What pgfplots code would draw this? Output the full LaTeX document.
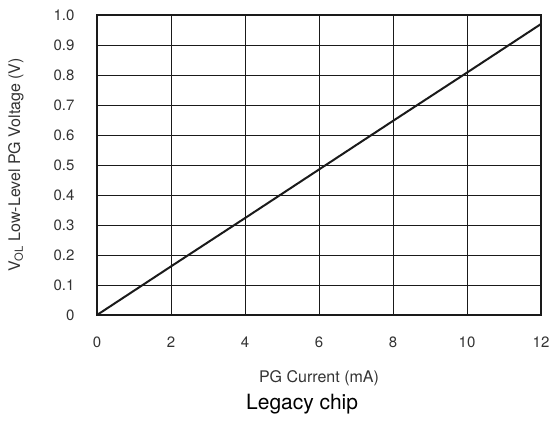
\documentclass[border=0pt]{standalone}
\usepackage{fontspec}
\setmainfont{TeX Gyre Heros}
\usepackage{pgfplots}
\pgfplotsset{compat=1.18}
\definecolor{ink}{HTML}{1A1A1A}
\definecolor{txt}{HTML}{333333}
\begin{document}
\begin{tikzpicture}
\useasboundingbox (-97bp,-109bp) rectangle (454bp,315bp);
\begin{axis}[
  scale only axis,
  width=444bp, height=300bp,
  xmin=0, xmax=12, ymin=0, ymax=1,
  xtick={0,2,...,12},
  ytick={0,0.1,...,1.0},
  yticklabels={0,0.1,0.2,0.3,0.4,0.5,0.6,0.7,0.8,0.9,1.0},
  /pgf/number format/assume math mode=true,
  tick style={draw=none},
  grid=major,
  major grid style={ink, line width=0.8bp},
  axis line style={ink, line width=2bp},
  ticklabel style={font=\fontsize{15bp}{18bp}\selectfont, text=txt},
  yticklabel style={xshift=-19bp},
  xticklabel style={yshift=-18bp},
  xlabel={PG Current (mA)},
  xlabel style={at={(axis description cs:0.5,0)}, anchor=center, yshift=-63bp,
    font=\fontsize{16bp}{19bp}\selectfont, text=txt},
  ylabel={V\textsubscript{OL} Low-Level PG Voltage (V)},
  ylabel style={at={(axis description cs:-0.1824,0.5)}, anchor=center,
    font=\fontsize{16bp}{19bp}\selectfont, text=txt},
  title={Legacy chip},
  title style={at={(axis description cs:0.462,0)}, anchor=center, yshift=-95bp,
    font=\fontsize{21bp}{25bp}\selectfont, text=black},
]
\addplot[ink, line width=2bp] coordinates {
  (0,0) (2,0.162) (4,0.323) (6,0.485) (8,0.647) (10,0.808) (12,0.97)
};
\end{axis}
\end{tikzpicture}
\end{document}
